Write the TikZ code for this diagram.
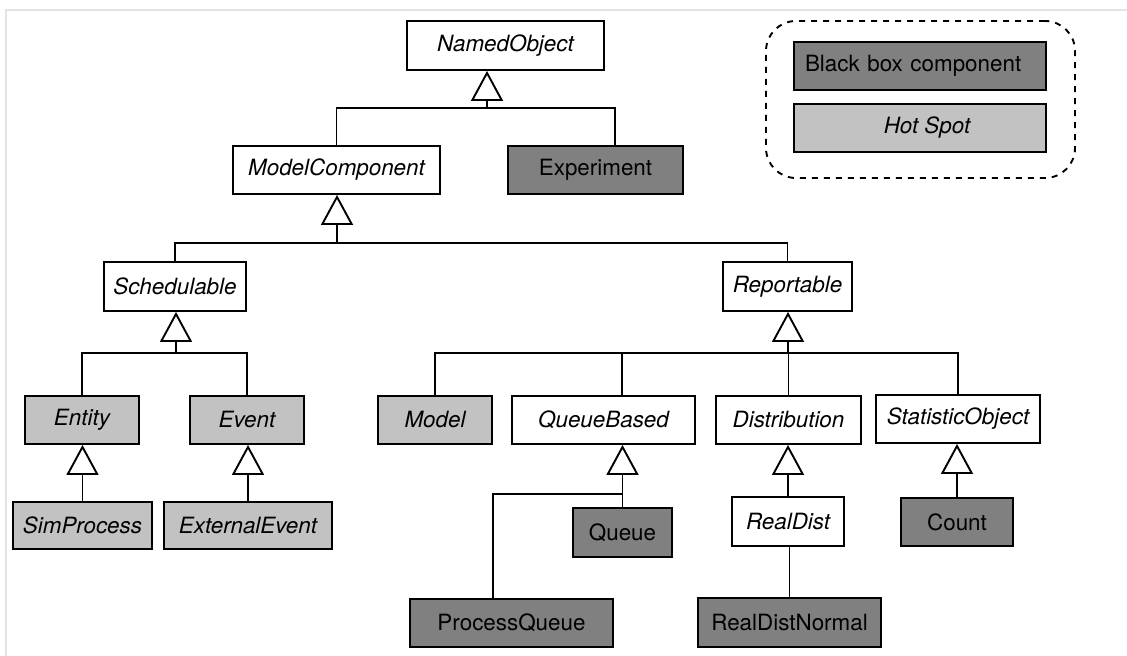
\documentclass[tikz,border=0pt]{standalone}
\usepackage{fontspec}
\setmainfont{TeX Gyre Heros}
\usetikzlibrary{arrows.meta}

\definecolor{bbgray}{RGB}{128,128,128}
\definecolor{hsgray}{RGB}{194,194,194}
\definecolor{framegray}{RGB}{228,228,228}

\begin{document}
\begin{tikzpicture}[x=0.5pt, y=-0.5pt, line width=0.95pt,
    every node/.style={draw, inner sep=0pt, font=\fontsize{11.2}{13}\selectfont},
    abstractbox/.style={fill=white, font=\fontsize{11.2}{13}\selectfont\itshape},
    hotspot/.style={fill=hsgray, font=\fontsize{11.2}{13}\selectfont\itshape},
    blackbox/.style={fill=bbgray},
    gen/.style={-{Triangle[length=15pt, width=16pt, fill=white]}}
  ]
    \useasboundingbox (0,0) rectangle (1127,656);
    \draw[framegray, line width=0.6pt] (6,656) |- (1127,10);

    % classes, top level
    \node[abstractbox, minimum width=98.5pt, minimum height=24.5pt] (NamedObject) at (505.5,45.5) {NamedObject};
    \node[abstractbox, minimum width=103.5pt, minimum height=24pt] (ModelComponent) at (336.5,170) {ModelComponent};
    \node[blackbox, minimum width=87.5pt, minimum height=24pt] (Experiment) at (595.5,170) {Experiment};
    \node[abstractbox, minimum width=71pt, minimum height=24.5pt] (Schedulable) at (175,286.5) {Schedulable};
    \node[abstractbox, minimum width=64.5pt, minimum height=24.5pt] (Reportable) at (787.5,286.5) {Reportable};

    % schedulable branch
    \node[hotspot, minimum width=57pt, minimum height=24pt] (Entity) at (82,420) {Entity};
    \node[hotspot, minimum width=57pt, minimum height=24pt] (Event) at (247,420) {Event};
    \node[hotspot, minimum width=69.5pt, minimum height=23.5pt] (SimProcess) at (82.5,525.5) {SimProcess};
    \node[hotspot, minimum width=84pt, minimum height=23.5pt] (ExternalEvent) at (248,525.5) {ExternalEvent};

    % reportable branch
    \node[hotspot, minimum width=57pt, minimum height=24pt] (Model) at (435,420) {Model};
    \node[abstractbox, minimum width=91.5pt, minimum height=24pt] (QueueBased) at (603.5,420) {QueueBased};
    \node[abstractbox, minimum width=72.5pt, minimum height=24pt] (Distribution) at (788.5,420) {Distribution};
    \node[abstractbox, minimum width=82pt, minimum height=24pt] (StatisticObject) at (958,419) {StatisticObject};
    \node[blackbox, minimum width=49.5pt, minimum height=24.5pt] (Queue) at (622.5,532.5) {Queue};
    \node[blackbox, minimum width=101.5pt, minimum height=24pt] (ProcessQueue) at (511.5,623) {ProcessQueue};
    \node[abstractbox, minimum width=56pt, minimum height=24.5pt] (RealDist) at (788,521.5) {RealDist};
    \node[blackbox, minimum width=91.5pt, minimum height=24.5pt] (RealDistNormal) at (789.5,622.5) {RealDistNormal};
    \node[blackbox, minimum width=56pt, minimum height=24pt] (Count) at (957,522) {Count};

    % legend
    \node[dashed, rounded corners=15pt, minimum width=154.5pt, minimum height=78.5pt] (legend) at (920.5,99.5) {};
    \node[blackbox, inner xsep=5.5pt, text width=115pt, align=left, minimum height=24pt] (keyBlack) at (920,66) {Black box component};
    \node[hotspot, minimum width=126pt, minimum height=24pt] (keyHot) at (920,128) {\hspace*{7pt}Hot Spot};

    % junctions under the triangles
    \coordinate (jNO) at (487,108);
    \coordinate (jMC) at (337,243);
    \coordinate (jSc) at (176,353);
    \coordinate (jRe) at (788,353);
    \coordinate (jQB) at (622,494);

    % NamedObject
    \draw[gen] (jNO) -- (jNO |- NamedObject.south);
    \draw (ModelComponent.north) |- (jNO) -| ([xshift=9.75pt]Experiment.north);

    % ModelComponent
    \draw[gen] (jMC) -- (jMC |- ModelComponent.south);
    \draw (Schedulable.north) |- (jMC) -| (Reportable.north);

    % Schedulable
    \draw[gen] (jSc) -- (jSc |- Schedulable.south);
    \draw (Entity.north) |- (jSc) -| (Event.north);
    \draw[gen] (SimProcess.north) -- (SimProcess.north |- Entity.south);
    \draw[gen] (ExternalEvent.north) -- (ExternalEvent.north |- Event.south);

    % Reportable
    \draw[gen] (jRe) -- (jRe |- Reportable.south);
    \draw (Model.north) |- (jRe) -| (StatisticObject.north);
    \draw ([xshift=9.25pt]QueueBased.north) -- ([xshift=9.25pt]QueueBased.north |- jRe);
    \draw (Distribution.north) -- (Distribution.north |- jRe);

    % QueueBased
    \draw[gen] (Queue.north) -- (Queue.north |- QueueBased.south);
    \draw ([xshift=-9.25pt]ProcessQueue.north) |- (jQB);

    % Distribution, StatisticObject
    \draw[gen] (RealDist.north) -- (RealDist.north |- Distribution.south);
    \draw (RealDistNormal.north) -- (RealDistNormal.north |- RealDist.south);
    \draw[gen] (Count.north) -- (Count.north |- StatisticObject.south);
  \end{tikzpicture}
\end{document}
